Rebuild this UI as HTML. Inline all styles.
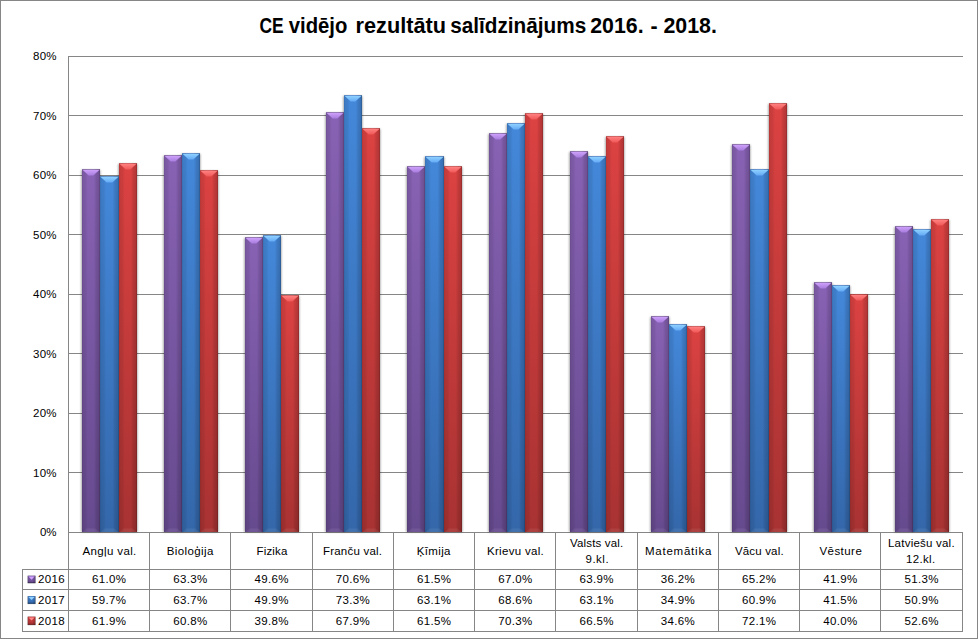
<!DOCTYPE html>
<html><head><meta charset="utf-8"><title>CE vidējo rezultātu salīdzinājums</title>
<style>html,body{margin:0;padding:0;background:#fff;overflow:hidden}svg{display:block}text{font-family:"Liberation Sans",sans-serif;fill:#000}</style></head><body>
<svg width="978" height="639" viewBox="0 0 978 639">
<defs>
<linearGradient id="gp" x1="0" y1="0" x2="0" y2="1"><stop offset="0" stop-color="#8862B4"/><stop offset="1" stop-color="#664A8E"/></linearGradient>
<linearGradient id="gb" x1="0" y1="0" x2="0" y2="1"><stop offset="0" stop-color="#4488DA"/><stop offset="1" stop-color="#3467AA"/></linearGradient>
<linearGradient id="gr" x1="0" y1="0" x2="0" y2="1"><stop offset="0" stop-color="#DC4242"/><stop offset="1" stop-color="#A83232"/></linearGradient>
<linearGradient id="side" x1="0" y1="0" x2="1" y2="0"><stop offset="0" stop-color="#000" stop-opacity="0.20"/><stop offset="0.05" stop-color="#000" stop-opacity="0.10"/><stop offset="0.20" stop-color="#000" stop-opacity="0.07"/><stop offset="0.32" stop-color="#000" stop-opacity="0.0"/><stop offset="0.66" stop-color="#000" stop-opacity="0.0"/><stop offset="0.78" stop-color="#000" stop-opacity="0.10"/><stop offset="0.93" stop-color="#000" stop-opacity="0.17"/><stop offset="1" stop-color="#000" stop-opacity="0.36"/></linearGradient>
<linearGradient id="tp" x1="0" y1="0" x2="0" y2="1"><stop offset="0" stop-color="#CDA0FA"/><stop offset="1" stop-color="#A87CDE"/></linearGradient>
<linearGradient id="tb" x1="0" y1="0" x2="0" y2="1"><stop offset="0" stop-color="#8ED0FF"/><stop offset="1" stop-color="#64AAF6"/></linearGradient>
<linearGradient id="tr" x1="0" y1="0" x2="0" y2="1"><stop offset="0" stop-color="#FF8080"/><stop offset="1" stop-color="#F05858"/></linearGradient>
<filter id="sh" x="-30%" y="-5%" width="160%" height="110%"><feGaussianBlur stdDeviation="1.1"/></filter>
<filter id="shm" x="-30%" y="-30%" width="160%" height="160%"><feGaussianBlur stdDeviation="0.6"/></filter>
<linearGradient id="mp" x1="0" y1="0" x2="0" y2="1"><stop offset="0" stop-color="#8560B2"/><stop offset="1" stop-color="#694C92"/></linearGradient>
<linearGradient id="mb" x1="0" y1="0" x2="0" y2="1"><stop offset="0" stop-color="#4486D6"/><stop offset="1" stop-color="#3266A8"/></linearGradient>
<linearGradient id="mr" x1="0" y1="0" x2="0" y2="1"><stop offset="0" stop-color="#D84242"/><stop offset="1" stop-color="#A63232"/></linearGradient>
</defs>
<rect x="0" y="0" width="978" height="639" fill="#fff"/>
<line x1="68.5" y1="532.50" x2="963.0" y2="532.50" stroke="#868686" stroke-width="1"/>
<line x1="68.5" y1="472.50" x2="963.0" y2="472.50" stroke="#868686" stroke-width="1"/>
<line x1="68.5" y1="413.50" x2="963.0" y2="413.50" stroke="#868686" stroke-width="1"/>
<line x1="68.5" y1="353.50" x2="963.0" y2="353.50" stroke="#868686" stroke-width="1"/>
<line x1="68.5" y1="294.50" x2="963.0" y2="294.50" stroke="#868686" stroke-width="1"/>
<line x1="68.5" y1="234.50" x2="963.0" y2="234.50" stroke="#868686" stroke-width="1"/>
<line x1="68.5" y1="175.50" x2="963.0" y2="175.50" stroke="#868686" stroke-width="1"/>
<line x1="68.5" y1="115.50" x2="963.0" y2="115.50" stroke="#868686" stroke-width="1"/>
<line x1="68.5" y1="56.50" x2="963.0" y2="56.50" stroke="#868686" stroke-width="1"/>
<line x1="68.5" y1="56.0" x2="68.5" y2="631.5" stroke="#868686" stroke-width="1"/>
<rect x="81.40" y="169.95" width="18.90" height="362.05" fill="#000" opacity="0.42" filter="url(#sh)"/>
<rect x="99.40" y="176.95" width="19.90" height="355.05" fill="#000" opacity="0.42" filter="url(#sh)"/>
<rect x="118.40" y="163.95" width="18.90" height="368.05" fill="#000" opacity="0.42" filter="url(#sh)"/>
<rect x="163.40" y="155.95" width="18.90" height="376.05" fill="#000" opacity="0.42" filter="url(#sh)"/>
<rect x="181.40" y="153.95" width="18.90" height="378.05" fill="#000" opacity="0.42" filter="url(#sh)"/>
<rect x="199.40" y="170.95" width="18.90" height="361.05" fill="#000" opacity="0.42" filter="url(#sh)"/>
<rect x="244.40" y="237.95" width="18.90" height="294.05" fill="#000" opacity="0.42" filter="url(#sh)"/>
<rect x="262.40" y="235.95" width="18.90" height="296.05" fill="#000" opacity="0.42" filter="url(#sh)"/>
<rect x="280.40" y="295.95" width="18.90" height="236.05" fill="#000" opacity="0.42" filter="url(#sh)"/>
<rect x="325.40" y="112.95" width="18.90" height="419.05" fill="#000" opacity="0.42" filter="url(#sh)"/>
<rect x="343.40" y="95.95" width="18.90" height="436.05" fill="#000" opacity="0.42" filter="url(#sh)"/>
<rect x="361.40" y="128.95" width="18.90" height="403.05" fill="#000" opacity="0.42" filter="url(#sh)"/>
<rect x="406.40" y="166.95" width="18.90" height="365.05" fill="#000" opacity="0.42" filter="url(#sh)"/>
<rect x="424.40" y="156.95" width="19.90" height="375.05" fill="#000" opacity="0.42" filter="url(#sh)"/>
<rect x="443.40" y="166.95" width="18.90" height="365.05" fill="#000" opacity="0.42" filter="url(#sh)"/>
<rect x="488.40" y="133.95" width="18.90" height="398.05" fill="#000" opacity="0.42" filter="url(#sh)"/>
<rect x="506.40" y="123.95" width="18.90" height="408.05" fill="#000" opacity="0.42" filter="url(#sh)"/>
<rect x="524.40" y="113.95" width="18.90" height="418.05" fill="#000" opacity="0.42" filter="url(#sh)"/>
<rect x="569.40" y="151.95" width="18.90" height="380.05" fill="#000" opacity="0.42" filter="url(#sh)"/>
<rect x="587.40" y="156.95" width="18.90" height="375.05" fill="#000" opacity="0.42" filter="url(#sh)"/>
<rect x="605.40" y="136.95" width="18.90" height="395.05" fill="#000" opacity="0.42" filter="url(#sh)"/>
<rect x="650.40" y="316.95" width="18.90" height="215.05" fill="#000" opacity="0.42" filter="url(#sh)"/>
<rect x="668.40" y="324.95" width="18.90" height="207.05" fill="#000" opacity="0.42" filter="url(#sh)"/>
<rect x="686.40" y="326.95" width="18.90" height="205.05" fill="#000" opacity="0.42" filter="url(#sh)"/>
<rect x="731.40" y="144.95" width="18.90" height="387.05" fill="#000" opacity="0.42" filter="url(#sh)"/>
<rect x="749.40" y="169.95" width="19.90" height="362.05" fill="#000" opacity="0.42" filter="url(#sh)"/>
<rect x="768.40" y="103.95" width="18.90" height="428.05" fill="#000" opacity="0.42" filter="url(#sh)"/>
<rect x="813.40" y="282.95" width="18.90" height="249.05" fill="#000" opacity="0.42" filter="url(#sh)"/>
<rect x="831.40" y="285.95" width="18.90" height="246.05" fill="#000" opacity="0.42" filter="url(#sh)"/>
<rect x="849.40" y="294.95" width="18.90" height="237.05" fill="#000" opacity="0.42" filter="url(#sh)"/>
<rect x="894.40" y="226.95" width="18.90" height="305.05" fill="#000" opacity="0.42" filter="url(#sh)"/>
<rect x="912.40" y="229.95" width="18.90" height="302.05" fill="#000" opacity="0.42" filter="url(#sh)"/>
<rect x="930.40" y="219.95" width="18.90" height="312.05" fill="#000" opacity="0.42" filter="url(#sh)"/>
<rect x="82.00" y="169.25" width="18.00" height="362.75" fill="url(#gp)"/>
<rect x="82.00" y="169.25" width="18.00" height="362.75" fill="url(#side)"/>
<path d="M82.70 532.00 L99.30 532.00 L95.40 528.40 L86.60 528.40 Z" fill="#fff" opacity="0.07"/>
<rect x="82.00" y="169.25" width="18.00" height="1" fill="#000" opacity="0.04"/>
<path d="M82.70 169.95 L99.30 169.95 L93.30 175.45 L88.70 175.45 Z" fill="url(#tp)"/>
<rect x="100.00" y="176.25" width="19.00" height="355.75" fill="url(#gb)"/>
<rect x="100.00" y="176.25" width="19.00" height="355.75" fill="url(#side)"/>
<path d="M100.70 532.00 L118.30 532.00 L114.40 528.40 L104.60 528.40 Z" fill="#fff" opacity="0.07"/>
<rect x="100.00" y="176.25" width="19.00" height="1" fill="#000" opacity="0.04"/>
<path d="M100.70 176.95 L118.30 176.95 L112.30 182.45 L106.70 182.45 Z" fill="url(#tb)"/>
<rect x="119.00" y="163.25" width="18.00" height="368.75" fill="url(#gr)"/>
<rect x="119.00" y="163.25" width="18.00" height="368.75" fill="url(#side)"/>
<path d="M119.70 532.00 L136.30 532.00 L132.40 528.40 L123.60 528.40 Z" fill="#fff" opacity="0.07"/>
<rect x="119.00" y="163.25" width="18.00" height="1" fill="#000" opacity="0.04"/>
<path d="M119.70 163.95 L136.30 163.95 L130.30 169.45 L125.70 169.45 Z" fill="url(#tr)"/>
<rect x="164.00" y="155.25" width="18.00" height="376.75" fill="url(#gp)"/>
<rect x="164.00" y="155.25" width="18.00" height="376.75" fill="url(#side)"/>
<path d="M164.70 532.00 L181.30 532.00 L177.40 528.40 L168.60 528.40 Z" fill="#fff" opacity="0.07"/>
<rect x="164.00" y="155.25" width="18.00" height="1" fill="#000" opacity="0.04"/>
<path d="M164.70 155.95 L181.30 155.95 L175.30 161.45 L170.70 161.45 Z" fill="url(#tp)"/>
<rect x="182.00" y="153.25" width="18.00" height="378.75" fill="url(#gb)"/>
<rect x="182.00" y="153.25" width="18.00" height="378.75" fill="url(#side)"/>
<path d="M182.70 532.00 L199.30 532.00 L195.40 528.40 L186.60 528.40 Z" fill="#fff" opacity="0.07"/>
<rect x="182.00" y="153.25" width="18.00" height="1" fill="#000" opacity="0.04"/>
<path d="M182.70 153.95 L199.30 153.95 L193.30 159.45 L188.70 159.45 Z" fill="url(#tb)"/>
<rect x="200.00" y="170.25" width="18.00" height="361.75" fill="url(#gr)"/>
<rect x="200.00" y="170.25" width="18.00" height="361.75" fill="url(#side)"/>
<path d="M200.70 532.00 L217.30 532.00 L213.40 528.40 L204.60 528.40 Z" fill="#fff" opacity="0.07"/>
<rect x="200.00" y="170.25" width="18.00" height="1" fill="#000" opacity="0.04"/>
<path d="M200.70 170.95 L217.30 170.95 L211.30 176.45 L206.70 176.45 Z" fill="url(#tr)"/>
<rect x="245.00" y="237.25" width="18.00" height="294.75" fill="url(#gp)"/>
<rect x="245.00" y="237.25" width="18.00" height="294.75" fill="url(#side)"/>
<path d="M245.70 532.00 L262.30 532.00 L258.40 528.40 L249.60 528.40 Z" fill="#fff" opacity="0.07"/>
<rect x="245.00" y="237.25" width="18.00" height="1" fill="#000" opacity="0.04"/>
<path d="M245.70 237.95 L262.30 237.95 L256.30 243.45 L251.70 243.45 Z" fill="url(#tp)"/>
<rect x="263.00" y="235.25" width="18.00" height="296.75" fill="url(#gb)"/>
<rect x="263.00" y="235.25" width="18.00" height="296.75" fill="url(#side)"/>
<path d="M263.70 532.00 L280.30 532.00 L276.40 528.40 L267.60 528.40 Z" fill="#fff" opacity="0.07"/>
<rect x="263.00" y="235.25" width="18.00" height="1" fill="#000" opacity="0.04"/>
<path d="M263.70 235.95 L280.30 235.95 L274.30 241.45 L269.70 241.45 Z" fill="url(#tb)"/>
<rect x="281.00" y="295.25" width="18.00" height="236.75" fill="url(#gr)"/>
<rect x="281.00" y="295.25" width="18.00" height="236.75" fill="url(#side)"/>
<path d="M281.70 532.00 L298.30 532.00 L294.40 528.40 L285.60 528.40 Z" fill="#fff" opacity="0.07"/>
<rect x="281.00" y="295.25" width="18.00" height="1" fill="#000" opacity="0.04"/>
<path d="M281.70 295.95 L298.30 295.95 L292.30 301.45 L287.70 301.45 Z" fill="url(#tr)"/>
<rect x="326.00" y="112.25" width="18.00" height="419.75" fill="url(#gp)"/>
<rect x="326.00" y="112.25" width="18.00" height="419.75" fill="url(#side)"/>
<path d="M326.70 532.00 L343.30 532.00 L339.40 528.40 L330.60 528.40 Z" fill="#fff" opacity="0.07"/>
<rect x="326.00" y="112.25" width="18.00" height="1" fill="#000" opacity="0.04"/>
<path d="M326.70 112.95 L343.30 112.95 L337.30 118.45 L332.70 118.45 Z" fill="url(#tp)"/>
<rect x="344.00" y="95.25" width="18.00" height="436.75" fill="url(#gb)"/>
<rect x="344.00" y="95.25" width="18.00" height="436.75" fill="url(#side)"/>
<path d="M344.70 532.00 L361.30 532.00 L357.40 528.40 L348.60 528.40 Z" fill="#fff" opacity="0.07"/>
<rect x="344.00" y="95.25" width="18.00" height="1" fill="#000" opacity="0.04"/>
<path d="M344.70 95.95 L361.30 95.95 L355.30 101.45 L350.70 101.45 Z" fill="url(#tb)"/>
<rect x="362.00" y="128.25" width="18.00" height="403.75" fill="url(#gr)"/>
<rect x="362.00" y="128.25" width="18.00" height="403.75" fill="url(#side)"/>
<path d="M362.70 532.00 L379.30 532.00 L375.40 528.40 L366.60 528.40 Z" fill="#fff" opacity="0.07"/>
<rect x="362.00" y="128.25" width="18.00" height="1" fill="#000" opacity="0.04"/>
<path d="M362.70 128.95 L379.30 128.95 L373.30 134.45 L368.70 134.45 Z" fill="url(#tr)"/>
<rect x="407.00" y="166.25" width="18.00" height="365.75" fill="url(#gp)"/>
<rect x="407.00" y="166.25" width="18.00" height="365.75" fill="url(#side)"/>
<path d="M407.70 532.00 L424.30 532.00 L420.40 528.40 L411.60 528.40 Z" fill="#fff" opacity="0.07"/>
<rect x="407.00" y="166.25" width="18.00" height="1" fill="#000" opacity="0.04"/>
<path d="M407.70 166.95 L424.30 166.95 L418.30 172.45 L413.70 172.45 Z" fill="url(#tp)"/>
<rect x="425.00" y="156.25" width="19.00" height="375.75" fill="url(#gb)"/>
<rect x="425.00" y="156.25" width="19.00" height="375.75" fill="url(#side)"/>
<path d="M425.70 532.00 L443.30 532.00 L439.40 528.40 L429.60 528.40 Z" fill="#fff" opacity="0.07"/>
<rect x="425.00" y="156.25" width="19.00" height="1" fill="#000" opacity="0.04"/>
<path d="M425.70 156.95 L443.30 156.95 L437.30 162.45 L431.70 162.45 Z" fill="url(#tb)"/>
<rect x="444.00" y="166.25" width="18.00" height="365.75" fill="url(#gr)"/>
<rect x="444.00" y="166.25" width="18.00" height="365.75" fill="url(#side)"/>
<path d="M444.70 532.00 L461.30 532.00 L457.40 528.40 L448.60 528.40 Z" fill="#fff" opacity="0.07"/>
<rect x="444.00" y="166.25" width="18.00" height="1" fill="#000" opacity="0.04"/>
<path d="M444.70 166.95 L461.30 166.95 L455.30 172.45 L450.70 172.45 Z" fill="url(#tr)"/>
<rect x="489.00" y="133.25" width="18.00" height="398.75" fill="url(#gp)"/>
<rect x="489.00" y="133.25" width="18.00" height="398.75" fill="url(#side)"/>
<path d="M489.70 532.00 L506.30 532.00 L502.40 528.40 L493.60 528.40 Z" fill="#fff" opacity="0.07"/>
<rect x="489.00" y="133.25" width="18.00" height="1" fill="#000" opacity="0.04"/>
<path d="M489.70 133.95 L506.30 133.95 L500.30 139.45 L495.70 139.45 Z" fill="url(#tp)"/>
<rect x="507.00" y="123.25" width="18.00" height="408.75" fill="url(#gb)"/>
<rect x="507.00" y="123.25" width="18.00" height="408.75" fill="url(#side)"/>
<path d="M507.70 532.00 L524.30 532.00 L520.40 528.40 L511.60 528.40 Z" fill="#fff" opacity="0.07"/>
<rect x="507.00" y="123.25" width="18.00" height="1" fill="#000" opacity="0.04"/>
<path d="M507.70 123.95 L524.30 123.95 L518.30 129.45 L513.70 129.45 Z" fill="url(#tb)"/>
<rect x="525.00" y="113.25" width="18.00" height="418.75" fill="url(#gr)"/>
<rect x="525.00" y="113.25" width="18.00" height="418.75" fill="url(#side)"/>
<path d="M525.70 532.00 L542.30 532.00 L538.40 528.40 L529.60 528.40 Z" fill="#fff" opacity="0.07"/>
<rect x="525.00" y="113.25" width="18.00" height="1" fill="#000" opacity="0.04"/>
<path d="M525.70 113.95 L542.30 113.95 L536.30 119.45 L531.70 119.45 Z" fill="url(#tr)"/>
<rect x="570.00" y="151.25" width="18.00" height="380.75" fill="url(#gp)"/>
<rect x="570.00" y="151.25" width="18.00" height="380.75" fill="url(#side)"/>
<path d="M570.70 532.00 L587.30 532.00 L583.40 528.40 L574.60 528.40 Z" fill="#fff" opacity="0.07"/>
<rect x="570.00" y="151.25" width="18.00" height="1" fill="#000" opacity="0.04"/>
<path d="M570.70 151.95 L587.30 151.95 L581.30 157.45 L576.70 157.45 Z" fill="url(#tp)"/>
<rect x="588.00" y="156.25" width="18.00" height="375.75" fill="url(#gb)"/>
<rect x="588.00" y="156.25" width="18.00" height="375.75" fill="url(#side)"/>
<path d="M588.70 532.00 L605.30 532.00 L601.40 528.40 L592.60 528.40 Z" fill="#fff" opacity="0.07"/>
<rect x="588.00" y="156.25" width="18.00" height="1" fill="#000" opacity="0.04"/>
<path d="M588.70 156.95 L605.30 156.95 L599.30 162.45 L594.70 162.45 Z" fill="url(#tb)"/>
<rect x="606.00" y="136.25" width="18.00" height="395.75" fill="url(#gr)"/>
<rect x="606.00" y="136.25" width="18.00" height="395.75" fill="url(#side)"/>
<path d="M606.70 532.00 L623.30 532.00 L619.40 528.40 L610.60 528.40 Z" fill="#fff" opacity="0.07"/>
<rect x="606.00" y="136.25" width="18.00" height="1" fill="#000" opacity="0.04"/>
<path d="M606.70 136.95 L623.30 136.95 L617.30 142.45 L612.70 142.45 Z" fill="url(#tr)"/>
<rect x="651.00" y="316.25" width="18.00" height="215.75" fill="url(#gp)"/>
<rect x="651.00" y="316.25" width="18.00" height="215.75" fill="url(#side)"/>
<path d="M651.70 532.00 L668.30 532.00 L664.40 528.40 L655.60 528.40 Z" fill="#fff" opacity="0.07"/>
<rect x="651.00" y="316.25" width="18.00" height="1" fill="#000" opacity="0.04"/>
<path d="M651.70 316.95 L668.30 316.95 L662.30 322.45 L657.70 322.45 Z" fill="url(#tp)"/>
<rect x="669.00" y="324.25" width="18.00" height="207.75" fill="url(#gb)"/>
<rect x="669.00" y="324.25" width="18.00" height="207.75" fill="url(#side)"/>
<path d="M669.70 532.00 L686.30 532.00 L682.40 528.40 L673.60 528.40 Z" fill="#fff" opacity="0.07"/>
<rect x="669.00" y="324.25" width="18.00" height="1" fill="#000" opacity="0.04"/>
<path d="M669.70 324.95 L686.30 324.95 L680.30 330.45 L675.70 330.45 Z" fill="url(#tb)"/>
<rect x="687.00" y="326.25" width="18.00" height="205.75" fill="url(#gr)"/>
<rect x="687.00" y="326.25" width="18.00" height="205.75" fill="url(#side)"/>
<path d="M687.70 532.00 L704.30 532.00 L700.40 528.40 L691.60 528.40 Z" fill="#fff" opacity="0.07"/>
<rect x="687.00" y="326.25" width="18.00" height="1" fill="#000" opacity="0.04"/>
<path d="M687.70 326.95 L704.30 326.95 L698.30 332.45 L693.70 332.45 Z" fill="url(#tr)"/>
<rect x="732.00" y="144.25" width="18.00" height="387.75" fill="url(#gp)"/>
<rect x="732.00" y="144.25" width="18.00" height="387.75" fill="url(#side)"/>
<path d="M732.70 532.00 L749.30 532.00 L745.40 528.40 L736.60 528.40 Z" fill="#fff" opacity="0.07"/>
<rect x="732.00" y="144.25" width="18.00" height="1" fill="#000" opacity="0.04"/>
<path d="M732.70 144.95 L749.30 144.95 L743.30 150.45 L738.70 150.45 Z" fill="url(#tp)"/>
<rect x="750.00" y="169.25" width="19.00" height="362.75" fill="url(#gb)"/>
<rect x="750.00" y="169.25" width="19.00" height="362.75" fill="url(#side)"/>
<path d="M750.70 532.00 L768.30 532.00 L764.40 528.40 L754.60 528.40 Z" fill="#fff" opacity="0.07"/>
<rect x="750.00" y="169.25" width="19.00" height="1" fill="#000" opacity="0.04"/>
<path d="M750.70 169.95 L768.30 169.95 L762.30 175.45 L756.70 175.45 Z" fill="url(#tb)"/>
<rect x="769.00" y="103.25" width="18.00" height="428.75" fill="url(#gr)"/>
<rect x="769.00" y="103.25" width="18.00" height="428.75" fill="url(#side)"/>
<path d="M769.70 532.00 L786.30 532.00 L782.40 528.40 L773.60 528.40 Z" fill="#fff" opacity="0.07"/>
<rect x="769.00" y="103.25" width="18.00" height="1" fill="#000" opacity="0.04"/>
<path d="M769.70 103.95 L786.30 103.95 L780.30 109.45 L775.70 109.45 Z" fill="url(#tr)"/>
<rect x="814.00" y="282.25" width="18.00" height="249.75" fill="url(#gp)"/>
<rect x="814.00" y="282.25" width="18.00" height="249.75" fill="url(#side)"/>
<path d="M814.70 532.00 L831.30 532.00 L827.40 528.40 L818.60 528.40 Z" fill="#fff" opacity="0.07"/>
<rect x="814.00" y="282.25" width="18.00" height="1" fill="#000" opacity="0.04"/>
<path d="M814.70 282.95 L831.30 282.95 L825.30 288.45 L820.70 288.45 Z" fill="url(#tp)"/>
<rect x="832.00" y="285.25" width="18.00" height="246.75" fill="url(#gb)"/>
<rect x="832.00" y="285.25" width="18.00" height="246.75" fill="url(#side)"/>
<path d="M832.70 532.00 L849.30 532.00 L845.40 528.40 L836.60 528.40 Z" fill="#fff" opacity="0.07"/>
<rect x="832.00" y="285.25" width="18.00" height="1" fill="#000" opacity="0.04"/>
<path d="M832.70 285.95 L849.30 285.95 L843.30 291.45 L838.70 291.45 Z" fill="url(#tb)"/>
<rect x="850.00" y="294.25" width="18.00" height="237.75" fill="url(#gr)"/>
<rect x="850.00" y="294.25" width="18.00" height="237.75" fill="url(#side)"/>
<path d="M850.70 532.00 L867.30 532.00 L863.40 528.40 L854.60 528.40 Z" fill="#fff" opacity="0.07"/>
<rect x="850.00" y="294.25" width="18.00" height="1" fill="#000" opacity="0.04"/>
<path d="M850.70 294.95 L867.30 294.95 L861.30 300.45 L856.70 300.45 Z" fill="url(#tr)"/>
<rect x="895.00" y="226.25" width="18.00" height="305.75" fill="url(#gp)"/>
<rect x="895.00" y="226.25" width="18.00" height="305.75" fill="url(#side)"/>
<path d="M895.70 532.00 L912.30 532.00 L908.40 528.40 L899.60 528.40 Z" fill="#fff" opacity="0.07"/>
<rect x="895.00" y="226.25" width="18.00" height="1" fill="#000" opacity="0.04"/>
<path d="M895.70 226.95 L912.30 226.95 L906.30 232.45 L901.70 232.45 Z" fill="url(#tp)"/>
<rect x="913.00" y="229.25" width="18.00" height="302.75" fill="url(#gb)"/>
<rect x="913.00" y="229.25" width="18.00" height="302.75" fill="url(#side)"/>
<path d="M913.70 532.00 L930.30 532.00 L926.40 528.40 L917.60 528.40 Z" fill="#fff" opacity="0.07"/>
<rect x="913.00" y="229.25" width="18.00" height="1" fill="#000" opacity="0.04"/>
<path d="M913.70 229.95 L930.30 229.95 L924.30 235.45 L919.70 235.45 Z" fill="url(#tb)"/>
<rect x="931.00" y="219.25" width="18.00" height="312.75" fill="url(#gr)"/>
<rect x="931.00" y="219.25" width="18.00" height="312.75" fill="url(#side)"/>
<path d="M931.70 532.00 L948.30 532.00 L944.40 528.40 L935.60 528.40 Z" fill="#fff" opacity="0.07"/>
<rect x="931.00" y="219.25" width="18.00" height="1" fill="#000" opacity="0.04"/>
<path d="M931.70 219.95 L948.30 219.95 L942.30 225.45 L937.70 225.45 Z" fill="url(#tr)"/>
<line x1="22" y1="569.5" x2="963.0" y2="569.5" stroke="#868686" stroke-width="1"/>
<line x1="22" y1="589.5" x2="963.0" y2="589.5" stroke="#868686" stroke-width="1"/>
<line x1="22" y1="610.5" x2="963.0" y2="610.5" stroke="#868686" stroke-width="1"/>
<line x1="22" y1="631.5" x2="963.0" y2="631.5" stroke="#868686" stroke-width="1"/>
<line x1="22.5" y1="569.5" x2="22.5" y2="631.5" stroke="#868686" stroke-width="1"/>
<line x1="149.50" y1="532.5" x2="149.50" y2="631.5" stroke="#868686" stroke-width="1"/>
<line x1="230.50" y1="532.5" x2="230.50" y2="631.5" stroke="#868686" stroke-width="1"/>
<line x1="312.50" y1="532.5" x2="312.50" y2="631.5" stroke="#868686" stroke-width="1"/>
<line x1="393.50" y1="532.5" x2="393.50" y2="631.5" stroke="#868686" stroke-width="1"/>
<line x1="474.50" y1="532.5" x2="474.50" y2="631.5" stroke="#868686" stroke-width="1"/>
<line x1="555.50" y1="532.5" x2="555.50" y2="631.5" stroke="#868686" stroke-width="1"/>
<line x1="637.50" y1="532.5" x2="637.50" y2="631.5" stroke="#868686" stroke-width="1"/>
<line x1="718.50" y1="532.5" x2="718.50" y2="631.5" stroke="#868686" stroke-width="1"/>
<line x1="799.50" y1="532.5" x2="799.50" y2="631.5" stroke="#868686" stroke-width="1"/>
<line x1="880.50" y1="532.5" x2="880.50" y2="631.5" stroke="#868686" stroke-width="1"/>
<line x1="962.50" y1="532.5" x2="962.50" y2="631.5" stroke="#868686" stroke-width="1"/>
<text x="56.6" y="536" font-size="11.5" text-anchor="end">0%</text>
<text x="32.9" y="477" font-size="11.5" textLength="23.7">10%</text>
<text x="32.9" y="417" font-size="11.5" textLength="23.7">20%</text>
<text x="32.9" y="358" font-size="11.5" textLength="23.7">30%</text>
<text x="32.9" y="298" font-size="11.5" textLength="23.7">40%</text>
<text x="32.9" y="239" font-size="11.5" textLength="23.7">50%</text>
<text x="32.9" y="179" font-size="11.5" textLength="23.7">60%</text>
<text x="32.9" y="120" font-size="11.5" textLength="23.7">70%</text>
<text x="32.9" y="60" font-size="11.5" textLength="23.7">80%</text>
<text x="82.50" y="555" font-size="11.5" textLength="53.80">Angļu val.</text>
<text x="166.80" y="555" font-size="11.5" textLength="46.50">Bioloģija</text>
<text x="256.50" y="555" font-size="11.5" textLength="30.90">Fizika</text>
<text x="322.90" y="555" font-size="11.5" textLength="59.10">Franču val.</text>
<text x="416.80" y="555" font-size="11.5" textLength="33.70">Ķīmija</text>
<text x="487.00" y="555" font-size="11.5" textLength="56.70">Krievu val.</text>
<text x="569.90" y="547" font-size="11.5" textLength="53.40">Valsts val.</text>
<text x="585.50" y="563" font-size="11.5" textLength="23.10">9.kl.</text>
<text x="645.00" y="555" font-size="11.5" textLength="66.30">Matemātika</text>
<text x="734.90" y="555" font-size="11.5" textLength="48.70">Vācu val.</text>
<text x="819.40" y="555" font-size="11.5" textLength="42.40">Vēsture</text>
<text x="888.00" y="547" font-size="11.5" textLength="66.60">Latviešu val.</text>
<text x="905.90" y="563" font-size="11.5" textLength="29.20">12.kl.</text>
<text x="91.93" y="583" font-size="11.5" textLength="34.0">61.0%</text>
<text x="173.18" y="583" font-size="11.5" textLength="34.0">63.3%</text>
<text x="254.42" y="583" font-size="11.5" textLength="34.0">49.6%</text>
<text x="335.67" y="583" font-size="11.5" textLength="34.0">70.6%</text>
<text x="416.92" y="583" font-size="11.5" textLength="34.0">61.5%</text>
<text x="498.17" y="583" font-size="11.5" textLength="34.0">67.0%</text>
<text x="579.42" y="583" font-size="11.5" textLength="34.0">63.9%</text>
<text x="660.67" y="583" font-size="11.5" textLength="34.0">36.2%</text>
<text x="741.92" y="583" font-size="11.5" textLength="34.0">65.2%</text>
<text x="823.17" y="583" font-size="11.5" textLength="34.0">41.9%</text>
<text x="904.42" y="583" font-size="11.5" textLength="34.0">51.3%</text>
<text x="38.1" y="583" font-size="11.5" textLength="26.5">2016</text>
<rect x="27.60" y="575.65" width="7.90" height="7.70" fill="#000" opacity="0.45" filter="url(#shm)"/>
<rect x="27.8" y="575.75" width="7.5" height="7.3" fill="url(#mp)"/>
<rect x="27.8" y="575.75" width="7.5" height="7.3" fill="url(#side)"/>
<rect x="27.8" y="581.85" width="7.5" height="1.2" fill="#000" opacity="0.28"/>
<path d="M28.50 576.55 L34.60 576.55 L31.55 579.65 Z" fill="#CFA2FF"/>
<text x="91.93" y="604" font-size="11.5" textLength="34.0">59.7%</text>
<text x="173.18" y="604" font-size="11.5" textLength="34.0">63.7%</text>
<text x="254.42" y="604" font-size="11.5" textLength="34.0">49.9%</text>
<text x="335.67" y="604" font-size="11.5" textLength="34.0">73.3%</text>
<text x="416.92" y="604" font-size="11.5" textLength="34.0">63.1%</text>
<text x="498.17" y="604" font-size="11.5" textLength="34.0">68.6%</text>
<text x="579.42" y="604" font-size="11.5" textLength="34.0">63.1%</text>
<text x="660.67" y="604" font-size="11.5" textLength="34.0">34.9%</text>
<text x="741.92" y="604" font-size="11.5" textLength="34.0">60.9%</text>
<text x="823.17" y="604" font-size="11.5" textLength="34.0">41.5%</text>
<text x="904.42" y="604" font-size="11.5" textLength="34.0">50.9%</text>
<text x="38.1" y="604" font-size="11.5" textLength="26.5">2017</text>
<rect x="27.60" y="596.10" width="7.90" height="8.00" fill="#000" opacity="0.45" filter="url(#shm)"/>
<rect x="27.8" y="596.20" width="7.5" height="7.6" fill="url(#mb)"/>
<rect x="27.8" y="596.20" width="7.5" height="7.6" fill="url(#side)"/>
<rect x="27.8" y="602.60" width="7.5" height="1.2" fill="#000" opacity="0.28"/>
<path d="M28.50 597.00 L34.60 597.00 L31.55 600.10 Z" fill="#8ED0FF"/>
<text x="91.93" y="625" font-size="11.5" textLength="34.0">61.9%</text>
<text x="173.18" y="625" font-size="11.5" textLength="34.0">60.8%</text>
<text x="254.42" y="625" font-size="11.5" textLength="34.0">39.8%</text>
<text x="335.67" y="625" font-size="11.5" textLength="34.0">67.9%</text>
<text x="416.92" y="625" font-size="11.5" textLength="34.0">61.5%</text>
<text x="498.17" y="625" font-size="11.5" textLength="34.0">70.3%</text>
<text x="579.42" y="625" font-size="11.5" textLength="34.0">66.5%</text>
<text x="660.67" y="625" font-size="11.5" textLength="34.0">34.6%</text>
<text x="741.92" y="625" font-size="11.5" textLength="34.0">72.1%</text>
<text x="823.17" y="625" font-size="11.5" textLength="34.0">40.0%</text>
<text x="904.42" y="625" font-size="11.5" textLength="34.0">52.6%</text>
<text x="38.1" y="625" font-size="11.5" textLength="26.5">2018</text>
<rect x="27.60" y="616.60" width="7.90" height="8.60" fill="#000" opacity="0.45" filter="url(#shm)"/>
<rect x="27.8" y="616.70" width="7.5" height="8.2" fill="url(#mr)"/>
<rect x="27.8" y="616.70" width="7.5" height="8.2" fill="url(#side)"/>
<rect x="27.8" y="623.70" width="7.5" height="1.2" fill="#000" opacity="0.28"/>
<path d="M28.50 617.50 L34.60 617.50 L31.55 620.60 Z" fill="#FF8A8A"/>
<text x="259.40" y="33" font-size="22" font-weight="bold" textLength="24.20" lengthAdjust="spacingAndGlyphs">CE</text>
<text x="288.80" y="33" font-size="22" font-weight="bold" textLength="58.60" lengthAdjust="spacingAndGlyphs">vidējo</text>
<text x="355.60" y="33" font-size="22" font-weight="bold" textLength="90.40" lengthAdjust="spacingAndGlyphs">rezultātu</text>
<text x="450.20" y="33" font-size="22" font-weight="bold" textLength="136.00" lengthAdjust="spacingAndGlyphs">salīdzinājums</text>
<text x="590.20" y="33" font-size="22" font-weight="bold" textLength="53.40" lengthAdjust="spacingAndGlyphs">2016.</text>
<text x="650.40" y="33" font-size="22" font-weight="bold" textLength="7.10" lengthAdjust="spacingAndGlyphs">-</text>
<text x="663.50" y="33" font-size="22" font-weight="bold" textLength="53.40" lengthAdjust="spacingAndGlyphs">2018.</text>
<rect x="0.5" y="0.5" width="977" height="638" fill="none" stroke="#868686" stroke-width="1"/>
</svg></body></html>
